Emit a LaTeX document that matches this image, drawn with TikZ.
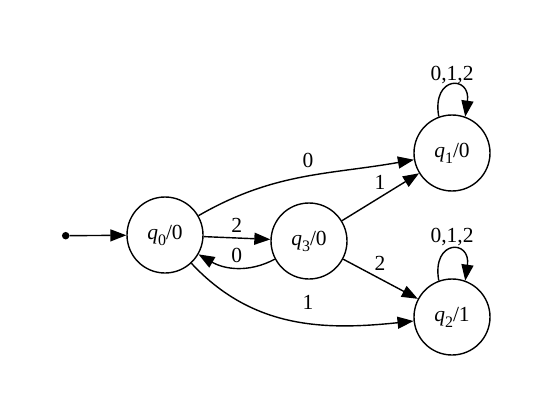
\documentclass[tikz,border=0pt]{standalone}
\usepackage{fontspec}
\setmainfont{Liberation Serif}
\usetikzlibrary{arrows.meta}
\tikzset{
  state/.style={draw, circle, line width=1.4pt, minimum size=76pt, inner sep=0pt,
    font=\fontsize{21.5}{24}\selectfont},
  startdot/.style={circle, fill=black, minimum size=7.5pt, inner sep=0pt},
  trans/.style={line width=1.4pt, -{Triangle[length=16pt,width=12pt]}},
  lbl/.style={font=\fontsize{21.5}{24}\selectfont, inner sep=0pt}
}
\newcommand{\stlabel}[2]{\textit{q}\raisebox{-0.28em}{\fontsize{16}{16}\selectfont #1}/#2}
\begin{document}
\begin{tikzpicture}[x=1pt,y=1pt]
\useasboundingbox (0,-417) rectangle (554,0);
\node[startdot] (s) at (65.7,-235.7) {};
\node[state] (q0) at (165,-235) {\stlabel{0}{0}};
\node[state] (q3) at (309,-241) {\stlabel{3}{0}};
\node[state] (q1) at (452,-153) {\stlabel{1}{0}};
\node[state] (q2) at (452,-317) {\stlabel{2}{1}};

\draw[trans] (s) -- (q0);
\draw[trans] (q0) to[out=30,in=190] (q1);
\draw[trans] (q0) -- (q3);
\draw[trans] (q3) to[out=208,in=-30] (q0);
\draw[trans] (q3) -- (q1);
\draw[trans] (q3) -- (q2);
\draw[trans] (q0) to[out=-47,in=186] (q2);
\draw[trans] (q1.110) .. controls +(100:42) and +(82:42) .. (q1.70);
\draw[trans] (q2.110) .. controls +(100:42) and +(82:42) .. (q2.70);

\node[lbl] (l1) at (308,-160) {0};
\node[lbl] (l2) at (236.7,-225) {2};
\node[lbl] (l3) at (236.7,-255) {0};
\node[lbl] (l4) at (380,-182) {1};
\node[lbl] (l5) at (380,-263) {2};
\node[lbl] (l6) at (308,-302) {1};
\node[lbl] (l7) at (452,-75) {0,1,2};
\node[lbl] (l8) at (452,-237) {0,1,2};
\end{tikzpicture}
\end{document}
